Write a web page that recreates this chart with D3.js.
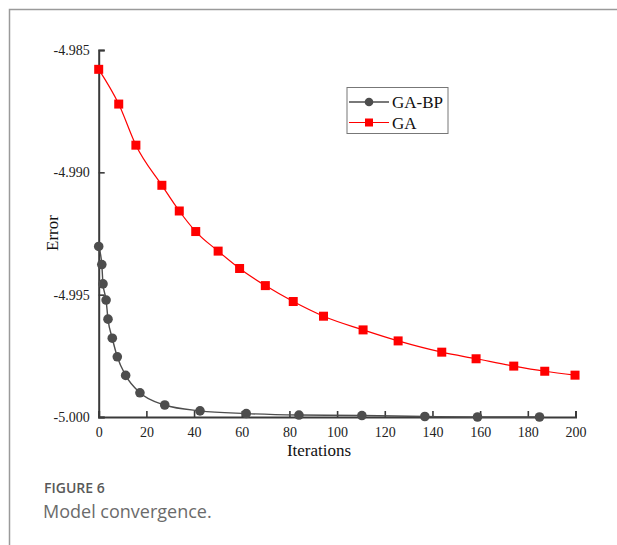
<!DOCTYPE html>
<html><head><meta charset="utf-8">
<script src="https://cdn.jsdelivr.net/npm/d3@7"></script>
<style>
html,body{margin:0;padding:0;background:#fff;}
svg{display:block;}
</style></head>
<body>
<svg id="c" width="617" height="545"></svg>
<script>
// Data
const gaIter = [0, 8.4, 15.6, 26.5, 33.8, 40.7, 50.1, 59.1, 69.9, 81.6, 94.3, 110.9, 125.6, 143.9, 158.3, 174.1, 187.1, 199.8];
const gaError = [-4.98579, -4.98721, -4.98889, -4.99053, -4.99158, -4.99242, -4.99322, -4.99393, -4.99463, -4.99528, -4.99588, -4.99644, -4.99689, -4.99735, -4.99762, -4.99792, -4.99813, -4.99829];
const gabpIter = [0, 1.3, 1.8, 3.1, 3.9, 5.7, 7.8, 11.3, 17.3, 27.7, 42.5, 61.9, 84, 110.4, 136.8, 158.9, 184.9];
const gabpError = [-4.99303, -4.99377, -4.99456, -4.99522, -4.99600, -4.99678, -4.99754, -4.99830, -4.99901, -4.99951, -4.99975, -4.99986, -4.99992, -4.99994, -4.99998, -5.00000, -5.00000];
const xTicks = [0, 20, 40, 60, 80, 100, 120, 140, 160, 180, 200];
const yTicks = [-4.985, -4.990, -4.995, -5.000];
const seriesNames = ["GA-BP", "GA"];

const svg = d3.select("#c");
const x = d3.scaleLinear().domain([0, 200]).range([98.7, 575.5]);
const y = d3.scaleLinear().domain([-5.000, -4.985]).range([417, 50]);
const axisColor = "#3a3a3a";
const serif = "'Liberation Serif','Times New Roman',serif";

// outer frame (top and left)
svg.append("path").attr("d", "M9.5,545 L9.5,9.5 L617,9.5").attr("fill", "none").attr("stroke", "#9a9a9a").attr("stroke-width", 1.5);

// axes
const xAxis = d3.axisBottom(x).tickValues(xTicks).tickSize(-6).tickPadding(10).tickFormat(d3.format("d"));
const gx = svg.append("g").attr("transform", `translate(0,${y(-5.0)})`).call(xAxis);
const yAxis = d3.axisLeft(y).tickValues(yTicks).tickSize(-6).tickPadding(9).tickFormat(d3.format(".3f"));
const gy = svg.append("g").attr("transform", `translate(${x(0)},0)`).call(yAxis);
[gx, gy].forEach(g => {
  g.select(".domain").attr("stroke", axisColor).attr("stroke-width", 2);
  g.selectAll(".tick line").attr("stroke", axisColor).attr("stroke-width", 1.6);
  g.selectAll(".tick text").attr("fill", "#222").style("font-family", serif).style("font-size", "14px");
});
gy.selectAll(".tick text").text(d => d3.format(".3f")(d).replace("−", "-"));
gx.selectAll(".tick text").attr("dy", "0.71em");

// axis titles
svg.append("text").attr("x", 319).attr("y", 456).attr("text-anchor", "middle")
  .style("font-family", serif).style("font-size", "17px").attr("fill", "#111").text("Iterations");
svg.append("text").attr("transform", "translate(58,233) rotate(-90)").attr("text-anchor", "middle")
  .style("font-family", serif).style("font-size", "17px").attr("fill", "#111").text("Error");

// lines
const line = d3.line().x(d => x(d[0])).y(d => y(d[1])).curve(d3.curveMonotoneX);
const ga = gaIter.map((v, i) => [v, gaError[i]]);
const gabp = gabpIter.map((v, i) => [v, gabpError[i]]);
svg.append("path").datum(gabp).attr("d", line).attr("fill", "none").attr("stroke", "#4d4d4d").attr("stroke-width", 1.4);
svg.append("path").datum(ga).attr("d", line).attr("fill", "none").attr("stroke", "#ff0000").attr("stroke-width", 1.2);

svg.append("g").selectAll("circle").data(gabp).join("circle")
  .attr("cx", d => x(d[0])).attr("cy", d => y(d[1])).attr("r", 4.8).attr("fill", "#4d4d4d");
svg.append("g").selectAll("rect").data(ga).join("rect")
  .attr("x", d => x(d[0]) - 4.5).attr("y", d => y(d[1]) - 4.5).attr("width", 9).attr("height", 9).attr("fill", "#ff0000");

// legend
const lg = svg.append("g");
lg.append("rect").attr("x", 347).attr("y", 87.5).attr("width", 101).attr("height", 46)
  .attr("fill", "#fff").attr("stroke", "#777").attr("stroke-width", 1);
const rowsY = [102, 122.5];
lg.append("line").attr("x1", 349).attr("x2", 389).attr("y1", rowsY[0]).attr("y2", rowsY[0]).attr("stroke", "#4d4d4d").attr("stroke-width", 1.4);
lg.append("circle").attr("cx", 369).attr("cy", rowsY[0]).attr("r", 4.3).attr("fill", "#4d4d4d");
lg.append("line").attr("x1", 349).attr("x2", 389).attr("y1", rowsY[1]).attr("y2", rowsY[1]).attr("stroke", "#ff0000").attr("stroke-width", 1.2);
lg.append("rect").attr("x", 365).attr("y", rowsY[1] - 4).attr("width", 8).attr("height", 8).attr("fill", "#ff0000");
seriesNames.forEach((n, i) => {
  lg.append("text").attr("x", 392).attr("y", rowsY[i] + 6).style("font-family", serif).style("font-size", "17px").attr("fill", "#111").text(n);
});

// caption
svg.append("text").attr("x", 44).attr("y", 493).style("font-family", "'Open Sans','Noto Sans',sans-serif")
  .style("font-size", "14px").style("font-weight", "600").attr("fill", "#595959").text("FIGURE 6");
svg.append("text").attr("x", 43).attr("y", 518).style("font-family", "'Open Sans','Noto Sans',sans-serif")
  .style("font-size", "18px").attr("fill", "#6b6b6b").text("Model convergence.");
</script>
</body></html>
